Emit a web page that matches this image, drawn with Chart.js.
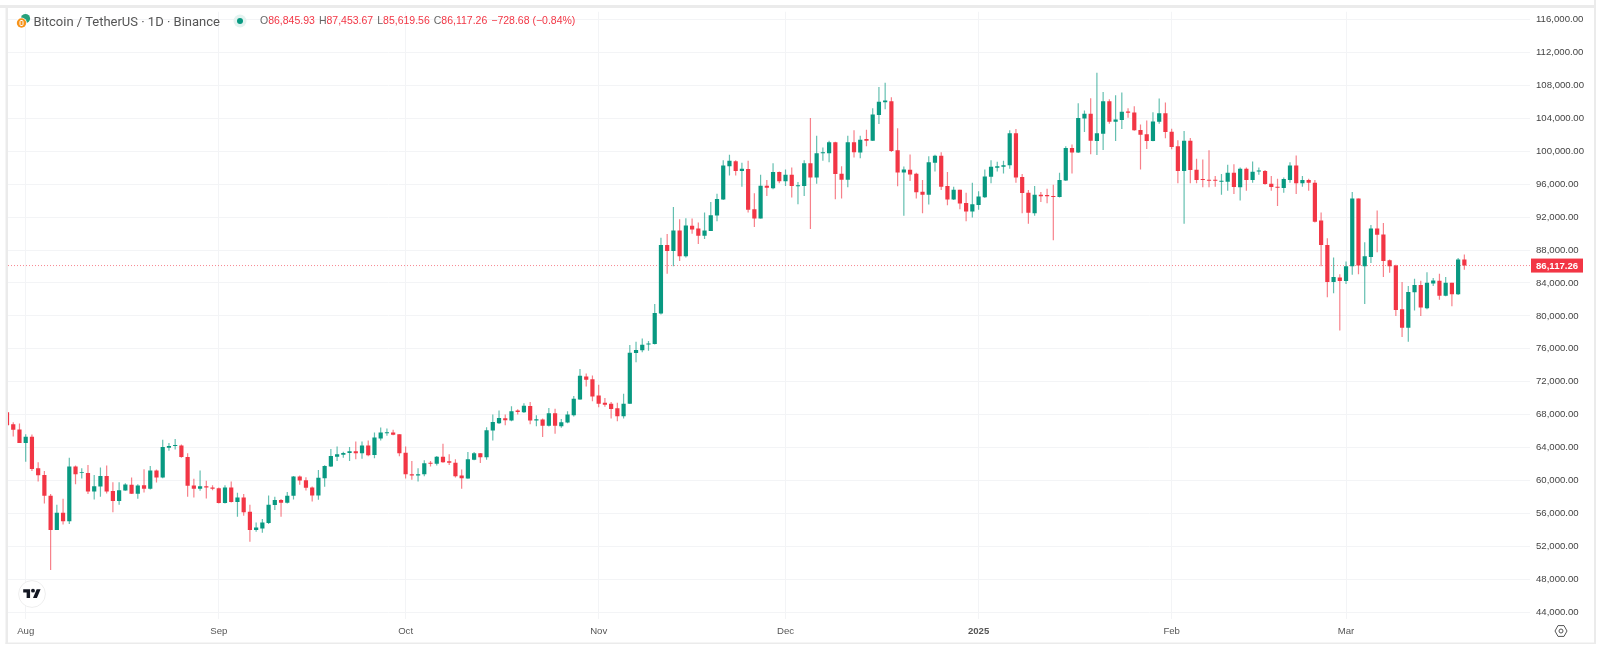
<!DOCTYPE html>
<html>
<head>
<meta charset="utf-8">
<title>Bitcoin / TetherUS</title>
<script src="https://cdn.jsdelivr.net/npm/chart.js@4/dist/chart.umd.min.js"></script>
<style>
  html, body { margin: 0; background: #fff; }
  #wrap { position: relative; width: 1600px; height: 650px; overflow: hidden; font-family: "Liberation Sans", Arial, sans-serif; }
  #wrap canvas { position: absolute; left: 0; top: 0; }
  .title { position: absolute; left: 33.5px; top: 13.5px; font-family: Roboto, sans-serif; font-size: 13px; line-height: 16px; color: #555; white-space: nowrap; }
  .ohlc { position: absolute; left: 260px; top: 14px; font-size: 10.5px; line-height: 13px; color: #f23645; white-space: nowrap; }
  .ohlc b { font-weight: normal; color: #666; }
  .ohlc span { margin-right: 4px; }
  svg { position: absolute; }
</style>
</head>
<body>
<div id="wrap">
  <canvas id="chart" width="1600" height="650"></canvas>
  <svg style="left:14.5px;top:12px" width="18" height="18" viewBox="0 0 18 18">
    <circle cx="10.5" cy="6.5" r="4.6" fill="#26a17b"/>
    <circle cx="6.5" cy="11" r="5.4" fill="#fff"/>
    <circle cx="6.5" cy="11" r="4.7" fill="#f7931a"/>
    <rect x="5" y="8.5" width="3" height="5" rx="1" fill="none" stroke="#fff" stroke-width="1"/>
  </svg>
  <div class="title">Bitcoin / TetherUS · 1D · Binance</div>
  <svg style="left:233px;top:13.5px" width="14" height="14" viewBox="0 0 14 14">
    <circle cx="7" cy="7" r="6.5" fill="#e3f3f0"/>
    <circle cx="7" cy="7" r="3" fill="#089981"/>
  </svg>
  <div class="ohlc"><span><b>O</b>86,845.93</span><span><b>H</b>87,453.67</span><span><b>L</b>85,619.56</span><span><b>C</b>86,117.26</span><span>−728.68 (−0.84%)</span></div>
  <svg style="left:18px;top:580px" width="28" height="28" viewBox="0 0 28 28">
    <circle cx="14" cy="14" r="13.4" fill="#fff" stroke="#eeeeee"/>
    <g transform="translate(5.2,7.2) scale(0.49)">
      <path d="M14 22H7V11H0V4h14v18zM28 22h-8l7.5-18h8L28 22z" fill="#131722"/>
      <circle cx="20" cy="7" r="4" fill="#131722"/>
    </g>
  </svg>
  <svg style="left:1554px;top:624px" width="14" height="14" viewBox="0 0 14 14">
    <path d="M4 1.6h6L13 7l-3 5.4H4L1 7z" fill="none" stroke="#555" stroke-width="1"/>
    <circle cx="7" cy="7" r="2" fill="none" stroke="#555" stroke-width="1"/>
  </svg>
</div>
<script>
// one row per month, first candle is 29 Jul 2024, last is 20 Mar 2025
const opens = [
  68280, 66834, 66190,
  64539, 65304, 61478, 60673, 58136, 53988, 56082, 55035, 61680, 60915, 60915, 58660, 59264, 60552, 58700, 57492, 58780, 59465, 58378, 59425, 58982, 61197, 60351, 63975, 64177, 64257, 62848, 59384, 58982, 59304, 59143,
  59063, 57250, 59143, 57371, 57935, 56203, 53988, 54150, 54834, 57009, 57612, 57290, 58136, 60472, 60029, 59143, 58176, 60270, 61680, 62888, 63130, 63331, 63532, 63291, 64257, 63089, 65103, 65747, 65827, 65626,
  63371, 60753, 60592, 60753, 62163, 62042, 62888, 62324, 62163, 60592, 60230, 62525, 63291, 62807, 66069, 66955, 67559, 67277, 68485, 68284, 69049, 67277, 67398, 66633, 68163, 66593, 67036, 67921, 69852, 72631, 72309,
  70335, 69450, 69329, 68765, 67798, 69329, 75490, 75812, 76536, 76576, 80282, 88618, 87893, 90390, 87249, 90954, 90631, 89745, 90309, 92202, 94135, 98202, 98806, 97598, 97840, 92967, 91839, 95826, 95504, 97477,
  96350, 97155, 95746, 95786, 98565, 96833, 99772, 99772, 101101, 97275, 96550, 101101, 99853, 101504, 101302, 104403, 105974, 106094, 100134, 97436, 97758, 97275, 95101, 94739, 98604, 99450, 95786, 94134, 95342, 93731, 92684,
  93490, 94416, 96913, 97999, 98121, 98322, 102188, 96872, 94980, 92483, 94738, 94698, 94577, 94456, 96470, 100416, 99852, 104000, 104564, 101262, 102148, 106094, 103598, 103799, 104846, 104725, 102591, 102067, 101262, 103598, 104644,
  102389, 100617, 97597, 101302, 97758, 96631, 96550, 96550, 96309, 96309, 97396, 95624, 97879, 96510, 97557, 97597, 96067, 95705, 95545, 96511, 98283, 96108, 96511, 96189, 91598, 88618, 84108, 84672,
  84229, 86041, 94256, 86041, 87169, 90632, 89907, 86766, 86121, 80806, 78551, 82860, 83746, 80927, 83947, 84270, 82457, 84028, 82619, 86845.93
];
const highs = [
  68280, 67076, 66915,
  65626, 65586, 62203, 61156, 58337, 57049, 57774, 62767, 61801, 61478, 61881, 60673, 61559, 61801, 59787, 59787, 59666, 60351, 59545, 61358, 61761, 61317, 64942, 64539, 65022, 64378, 63291, 60190, 61197, 59948, 59425,
  59143, 59425, 59868, 58498, 58337, 57049, 54874, 55317, 58176, 58015, 57734, 58579, 60552, 60593, 60391, 59263, 61277, 61841, 63814, 64136, 63492, 64056, 64740, 64740, 64861, 65827, 66431, 66311, 66149, 65626,
  64136, 62364, 61478, 62445, 62364, 62968, 64458, 63170, 62566, 61317, 63452, 63452, 63331, 66472, 68002, 68485, 68002, 69009, 68646, 69371, 69532, 67921, 67519, 68807, 68727, 67479, 68405, 70257, 73557, 72994, 72752,
  71624, 70013, 69530, 69450, 70536, 76456, 76859, 77262, 76939, 81450, 89504, 89947, 93249, 91759, 91879, 91839, 91356, 92564, 93853, 94860, 98927, 99571, 98927, 98605, 98846, 94900, 97155, 96511, 98565, 97558,
  97799, 98041, 96269, 98927, 104040, 101906, 100457, 101302, 101181, 98202, 101906, 102550, 101906, 102631, 105249, 107826, 108349, 106577, 102792, 98161, 99611, 97396, 96510, 99410, 99571, 99893, 97477, 95705, 95342, 94980, 96188,
  95141, 97799, 98926, 98725, 98846, 102550, 102711, 97235, 95302, 95785, 95060, 95463, 95946, 97396, 100617, 100819, 105853, 104967, 106457, 109557, 107222, 106336, 106819, 107141, 105249, 105490, 103276, 103759, 104765, 106416, 105933,
  102752, 101342, 102470, 101624, 99087, 99007, 100134, 96993, 97235, 98363, 98443, 98040, 98040, 98765, 98040, 97718, 96993, 96672, 96833, 98685, 99491, 96994, 96672, 96511, 92565, 89424, 87088, 85074,
  86604, 95061, 94256, 88940, 91034, 92806, 91276, 86846, 86202, 84108, 83625, 84511, 84269, 85316, 84591, 85115, 84713, 84028, 87048, 87453.67
];
const lows = [
  66720, 65344, 64539,
  62284, 61156, 59868, 57210, 49100, 53988, 54633, 54713, 59545, 60230, 58337, 57693, 58015, 58418, 56122, 57049, 58740, 58337, 57774, 58539, 58901, 59747, 60271, 63613, 63774, 62767, 58015, 57935, 58740, 57814, 58820,
  57210, 57210, 57331, 55599, 55720, 52539, 53747, 53626, 54713, 56404, 55599, 57210, 57693, 59465, 58780, 57451, 57653, 59223, 61640, 62365, 62767, 62365, 62566, 62646, 62928, 62686, 64861, 65425, 65505, 62928,
  60230, 60069, 59867, 60512, 61680, 61801, 62163, 61881, 60351, 58982, 60190, 62445, 62123, 62525, 64861, 66874, 66713, 67197, 68002, 68203, 66834, 66593, 65264, 66552, 65667, 66391, 66955, 67760, 69800, 71423, 69610,
  68886, 68966, 67517, 67195, 67517, 69289, 74362, 75570, 75771, 76536, 80161, 85114, 86040, 86685, 87088, 89987, 88739, 89342, 90309, 91517, 94094, 97074, 97074, 95705, 92564, 90792, 91839, 94578, 95383, 96108,
  95786, 94376, 93571, 94578, 90551, 96067, 98846, 98685, 94175, 94255, 95624, 99248, 99168, 100618, 101262, 103316, 105128, 99933, 95745, 92161, 96389, 94255, 92483, 93530, 97557, 95302, 93450, 94094, 92966, 91517, 91960,
  92886, 94336, 96107, 97557, 97316, 97879, 96188, 92483, 91195, 92161, 93853, 93691, 89200, 94376, 96389, 97316, 99812, 102349, 99651, 99570, 100174, 103356, 101262, 102711, 104081, 102510, 97799, 100295, 101222, 103356, 101584,
  100255, 96107, 91195, 96107, 96107, 95624, 95624, 95705, 94738, 95221, 94819, 94013, 95221, 96188, 97155, 95946, 95221, 93370, 94981, 96188, 94820, 95706, 95222, 91357, 86041, 82256, 82739, 78229,
  83866, 84994, 85074, 81450, 86443, 87732, 84712, 85235, 80000, 77423, 76859, 80645, 80000, 80806, 83625, 81974, 82377, 81169, 82538, 85619.56
];
const closes = [
  66720, 66150, 64539,
  65304, 61398, 60633, 58136, 53988, 56082, 55035, 61680, 60753, 60995, 58660, 59304, 60552, 58660, 57492, 58820, 59505, 58378, 59384, 58982, 61197, 60351, 64056, 64177, 64297, 62848, 59344, 58982, 59304, 59143, 58982,
  57250, 59143, 57371, 57935, 56122, 53988, 54270, 54874, 57049, 57612, 57290, 58136, 60472, 59988, 59102, 58176, 60311, 61760, 62968, 63170, 63331, 63532, 63291, 64257, 63049, 65223, 65827, 65868, 65546, 63290,
  60753, 60592, 60753, 62082, 62042, 62888, 62203, 62163, 60512, 60270, 62566, 63291, 62807, 66109, 67116, 67599, 67317, 68405, 68324, 69089, 67277, 67438, 66633, 68163, 66633, 67076, 68002, 69935, 72711, 72229, 70214,
  69329, 69208, 68684, 67798, 69329, 75530, 75852, 76496, 76657, 80362, 88618, 87893, 90390, 87249, 90994, 90510, 89745, 90390, 92242, 94215, 98283, 98846, 97598, 97880, 92886, 91839, 95826, 95585, 97477, 96350,
  97155, 95786, 95866, 98565, 96833, 99772, 99893, 101101, 97235, 96550, 101101, 99893, 101423, 101302, 104484, 106014, 106175, 100054, 97436, 97799, 97195, 95020, 94739, 98685, 99450, 95705, 94134, 95342, 93651, 92684, 93571,
  94497, 96953, 98121, 98201, 98322, 102188, 96832, 94940, 92524, 94738, 94537, 94537, 94456, 96510, 100416, 99852, 104041, 104564, 101302, 102188, 106094, 103598, 103879, 104806, 104685, 102550, 102027, 101262, 103638, 104644, 102349,
  100537, 97597, 101302, 97718, 96510, 96510, 96430, 96430, 96430, 97396, 95664, 97879, 96510, 97517, 97678, 96027, 95664, 95585, 96632, 98283, 96108, 96511, 96189, 91437, 88618, 84108, 84712, 84229,
  86041, 94256, 86121, 87249, 90632, 89867, 86685, 86041, 80725, 78551, 82900, 83746, 81007, 84027, 84309, 82457, 84028, 82619, 86846, 86117.26
];
const monthStarts = [3, 34, 64, 95, 125, 156, 187, 215];
const monthLabels = ['Aug', 'Sep', 'Oct', 'Nov', 'Dec', '2025', 'Feb', 'Mar'];
const priceTicks = [44000, 48000, 52000, 56000, 60000, 64000, 68000, 72000, 76000, 80000, 84000, 88000, 92000, 96000, 100000, 104000, 108000, 112000, 116000];
const lastPrice = 86117.26;

const UP = '#089981', DOWN = '#f23645';
const money = v => v.toLocaleString('en-US', { minimumFractionDigits: 2, maximumFractionDigits: 2 });
const candleColors = opens.map((o, i) => closes[i] >= o ? UP : DOWN);
const wickColors = candleColors.map(c => c + 'a0'); // the screenshot is resampled, thin wicks come out pale

// frame of the screenshot, price line and its badge
const extras = {
  id: 'extras',
  beforeDatasetsDraw(chart) {
    const { ctx, chartArea: a, scales: { y } } = chart;
    const py = y.getPixelForValue(lastPrice);
    ctx.save();
    ctx.strokeStyle = 'rgba(242,54,69,0.6)';
    ctx.setLineDash([1, 2]);
    ctx.beginPath();
    ctx.moveTo(a.left, py);
    ctx.lineTo(a.right, py);
    ctx.stroke();
    ctx.restore();
  },
  afterDraw(chart) {
    const { ctx, scales: { y } } = chart;
    const py = y.getPixelForValue(lastPrice);
    ctx.save();
    ctx.fillStyle = DOWN;
    ctx.fillRect(1531, py - 7, 52, 14);
    ctx.fillStyle = '#fff';
    ctx.font = 'bold 9.6px "Liberation Sans", Arial, sans-serif';
    ctx.textBaseline = 'middle';
    ctx.fillText(money(lastPrice), 1536, py + 0.5);
    ctx.fillStyle = '#ebebeb';
    ctx.fillRect(0, 5, 1594, 3);
    ctx.fillRect(5.5, 5, 2.5, 639);
    ctx.fillRect(1594, 0, 2, 644);
    ctx.fillRect(5.5, 642.5, 1590, 1.5);
    ctx.restore();
  }
};

new Chart(document.getElementById('chart'), {
  type: 'bar',
  data: {
    datasets: [
      {
        label: 'Body',
        data: opens.map((o, i) => ({ x: i, y: [o, closes[i]] })),
        backgroundColor: candleColors,
        barThickness: 4.2,
        grouped: false,
        order: 1
      },
      {
        label: 'Wick',
        data: highs.map((h, i) => ({ x: i, y: [lows[i], h] })),
        backgroundColor: wickColors,
        barThickness: 1.2,
        grouped: false,
        order: 2
      }
    ]
  },
  options: {
    responsive: false,
    animation: false,
    layout: { padding: { left: 8, top: 8, right: 0, bottom: 0 } },
    datasets: { bar: { borderWidth: 0, inflateAmount: 0, borderSkipped: false } },
    plugins: { legend: { display: false }, tooltip: { enabled: false } },
    scales: {
      x: {
        type: 'linear',
        offset: false,
        min: 0.158,
        max: 244.54,
        afterBuildTicks: axis => { axis.ticks = monthStarts.map(value => ({ value })); },
        afterFit: axis => { axis.height = 31; },
        grid: { color: '#f3f4f6', drawTicks: false, offset: false },
        border: { display: false },
        ticks: {
          autoSkip: false,
          maxRotation: 0,
          padding: 7,
          color: '#555',
          font: ctx => ({ family: '"Liberation Sans", Arial, sans-serif', size: 9.6, weight: monthLabels[ctx.index] === '2025' ? 'bold' : 'normal' }),
          callback: v => monthLabels[monthStarts.indexOf(v)]
        }
      },
      y: {
        type: 'linear',
        position: 'right',
        min: 43157,
        max: 116966,
        afterBuildTicks: axis => { axis.ticks = priceTicks.map(value => ({ value })); },
        afterFit: axis => { axis.width = 70; },
        grid: { color: '#f3f4f6', drawTicks: false },
        border: { display: false },
        ticks: {
          crossAlign: 'near',
          padding: 6,
          color: '#444',
          font: { family: '"Liberation Sans", Arial, sans-serif', size: 9.6 },
          callback: v => money(v)
        }
      }
    }
  },
  plugins: [extras]
});
</script>
</body>
</html>
